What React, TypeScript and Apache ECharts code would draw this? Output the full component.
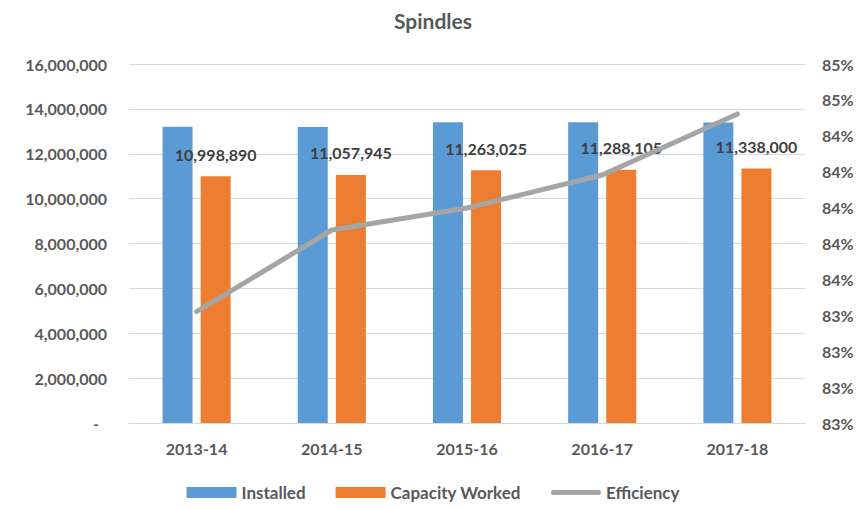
import React, { useEffect, useRef } from "react";
import * as echarts from "echarts";

const categories = ["2013-14", "2014-15", "2015-16", "2016-17", "2017-18"];
const installed = [13208000, 13189000, 13409000, 13402000, 13394000];
const capacityWorked = [10998890, 11057945, 11263025, 11288105, 11338000];
const efficiency = [0.83275, 0.83844, 0.83997, 0.84227, 0.84652];
const rightTickLabels = ["83%", "83%", "83%", "83%", "84%", "84%", "84%", "84%", "84%", "85%", "85%"];

const FONT = "Lato, 'Open Sans', sans-serif";
const AXIS_COLOR = "#595959";
const LINE_ICON = "path://M2.5,0 L47.5,0 A2.5,2.5 0 0 1 47.5,5 L2.5,5 A2.5,2.5 0 0 1 2.5,0 Z";

export default function App() {
  const ref = useRef<HTMLDivElement>(null);
  useEffect(() => {
    if (!ref.current) return;
    const chart = echarts.init(ref.current, null, { renderer: "svg" });
    chart.setOption({
      animation: false,
      textStyle: { fontFamily: FONT },
      title: {
        text: "Spindles",
        left: "center",
        top: 5,
        textStyle: { fontFamily: FONT, fontSize: 21, fontWeight: "bold", color: AXIS_COLOR },
      },
      legend: {
        bottom: 3,
        left: "center",
        itemWidth: 50,
        itemHeight: 11,
        itemGap: 30,
        symbolKeepAspect: true,
        textStyle: { fontFamily: FONT, fontSize: 17, fontWeight: "bold", color: AXIS_COLOR },
        data: [
          { name: "Installed", icon: "rect" },
          { name: "Capacity Worked", icon: "rect" },
          { name: "Efficiency", icon: LINE_ICON, itemStyle: { color: "#A5A5A5", borderWidth: 0 }, lineStyle: { width: 0 } },
        ],
      },
      grid: { left: 129, right: 61, top: 64, bottom: 86, containLabel: false },
      xAxis: {
        type: "category",
        data: categories,
        axisLine: { lineStyle: { color: "#d9d9d9", width: 1 } },
        axisTick: { show: false },
        axisLabel: { fontFamily: FONT, fontSize: 16, fontWeight: "bold", color: AXIS_COLOR, margin: 17 },
      },
      yAxis: [
        {
          type: "value",
          min: 0,
          max: 16000000,
          interval: 2000000,
          axisLine: { show: false },
          axisTick: { show: false },
          splitLine: { lineStyle: { color: "#d9d9d9", width: 1 } },
          axisLabel: {
            margin: 22,
            fontFamily: FONT,
            fontSize: 16,
            fontWeight: "bold",
            color: AXIS_COLOR,
            formatter: (v: number) => (v === 0 ? "{d|-}" : v.toLocaleString("en-US")),
            rich: { d: { padding: [0, 8, 0, 0], fontFamily: FONT, fontSize: 16, fontWeight: "bold", color: AXIS_COLOR } },
          },
        },
        {
          type: "value",
          min: 0.825,
          max: 0.85,
          interval: 0.0025,
          axisLine: { show: false },
          axisTick: { show: false },
          splitLine: { show: false },
          axisLabel: {
            margin: 17,
            fontFamily: FONT,
            fontSize: 16,
            fontWeight: "bold",
            color: AXIS_COLOR,
            formatter: (_v: number, i: number) => rightTickLabels[i] ?? "",
          },
        },
      ],
      series: [
        {
          name: "Installed",
          type: "bar",
          data: installed,
          barWidth: 30,
          barGap: "27%",
          itemStyle: { color: "#5B9BD5" },
        },
        {
          name: "Capacity Worked",
          type: "bar",
          data: capacityWorked,
          barWidth: 30,
          itemStyle: { color: "#ED7D31" },
          label: {
            show: true,
            position: "top",
            distance: 14,
            fontFamily: FONT,
            fontSize: 16,
            fontWeight: "bold",
            color: "#404040",
            formatter: (p: any) => Number(p.value).toLocaleString("en-US"),
          },
        },
        {
          name: "Efficiency",
          type: "line",
          yAxisIndex: 1,
          data: efficiency,
          showSymbol: false,
          symbol: "none",
          lineStyle: { color: "#A5A5A5", width: 5, cap: "round", join: "round" },
          itemStyle: { color: "#A5A5A5" },
        },
      ],
    });
    return () => chart.dispose();
  }, []);
  return <div ref={ref} style={{ width: 866, height: 509, position: "absolute", left: 0, top: 0 }} />;
}
